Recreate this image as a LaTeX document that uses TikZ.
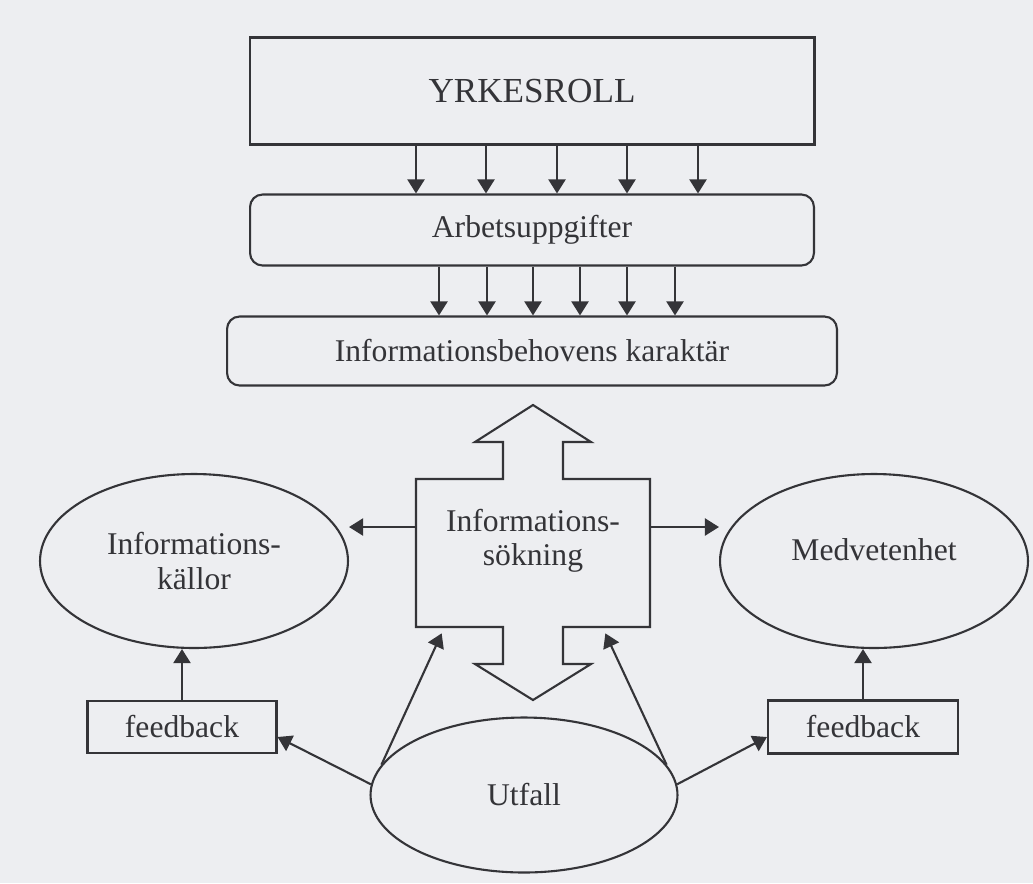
\documentclass[tikz,border=0pt]{standalone}
\usepackage{fontspec}
\setmainfont{Liberation Serif}
\usetikzlibrary{shapes.geometric,arrows.meta}
\definecolor{paper}{RGB}{237,238,241}
\definecolor{ink}{RGB}{52,52,56}

\begin{document}
\begin{tikzpicture}
			[
				x=0.02cm, y=-0.02cm,
				font=\fontsize{18}{19.5}\selectfont,
				align=center,
				box/.style={draw=ink, line width=1.2pt, inner sep=0pt, text=ink},
				rbox/.style={box, rounded corners=0.25cm},
				oval/.style={box, ellipse},
				label/.style={text=ink, inner sep=0pt},
				arrow/.style={-{Triangle[length=0.28cm,width=0.34cm]}, draw=ink, line width=1.2pt}
			]

			\useasboundingbox[fill=paper] (0,0) rectangle (1033,883);

			% boxes
			\node[box, minimum width=11.3cm, minimum height=2.14cm, font=\fontsize{20}{24}\selectfont] (roll) at ( 532, 91 ) {YRKESROLL};
			\node[rbox, minimum width=11.28cm, minimum height=1.42cm] (tasks) at ( 532, 230 ) {Arbetsuppgifter};
			\node[rbox, minimum width=12.2cm, minimum height=1.38cm] (needs) at ( 532, 351 ) {Informationsbehovens karaktär};

			% search shape
			\node[minimum width=4.68cm, minimum height=2.96cm] (sok) at ( 533, 553 ) {};
			\node[label] (soktext) at ( 533, 541 ) {Informations-\\sökning};
			\draw[draw=ink, line width=1.2pt, line join=miter]
				(533,405) -- (591,442) -- (563,442) -- (563,479) -- (650,479) -- (650,627)
				-- (563,627) -- (563,664) -- (591,664) -- (533,700) -- (475,664) -- (503,664)
				-- (503,627) -- (416,627) -- (416,479) -- (503,479) -- (503,442) -- (475,442) -- cycle;

			% ovals
			\node[oval, minimum width=6.16cm, minimum height=3.48cm] (kallor) at ( 194, 561 ) {Informations-\\källor};
			\node[oval, minimum width=6.16cm, minimum height=3.48cm] (medv) at ( 874, 561 ) {\raisebox{0.44cm}{Medvetenhet}};
			\node[oval, minimum width=6.14cm, minimum height=3.1cm] (utfall) at ( 524, 795 ) {Utfall};

			% feedback boxes
			\node[box, minimum width=3.78cm, minimum height=1.04cm] (fbL) at ( 182, 727 ) {feedback};
			\node[box, minimum width=3.8cm, minimum height=1.06cm] (fbR) at ( 863, 727 ) {feedback};

			% arrow ends
			\coordinate (sokW) at ([yshift=0.52cm]sok.west);
			\coordinate (sokE) at ([yshift=0.52cm]sok.east);
			\coordinate (inL) at ([xshift=0.52cm,yshift=-0.12cm]sok.south west);
			\coordinate (inR) at ([xshift=-0.9cm,yshift=-0.12cm]sok.south east);

			% arrows
			\foreach \x in {416,486,557,627,698}
			{
				\coordinate (t) at (\x,0);
				\draw[arrow] (t |- roll.south) -- (t |- tasks.north);
			}
			\foreach \x in {439,487,533,580,627,675}
			{
				\coordinate (t) at (\x,0);
				\draw[arrow] (t |- tasks.south) -- (t |- needs.north);
			}

			\draw[arrow] (sokW) -- (sokW -| kallor.east);
			\draw[arrow] (sokE) -- (sokE -| medv.west);
			\draw[arrow] (fbL.north) -- (fbL.north |- kallor.south);
			\draw[arrow] (fbR.north) -- (fbR.north |- medv.south);

			\draw[arrow] (utfall.176) -- ([yshift=-0.2cm]fbL.east);
			\draw[arrow] (utfall.168) -- (inL);
			\draw[arrow] (utfall.12) -- (inR);
			\draw[arrow] (utfall.4) -- ([yshift=-0.2cm]fbR.west);

		\end{tikzpicture}
\end{document}
